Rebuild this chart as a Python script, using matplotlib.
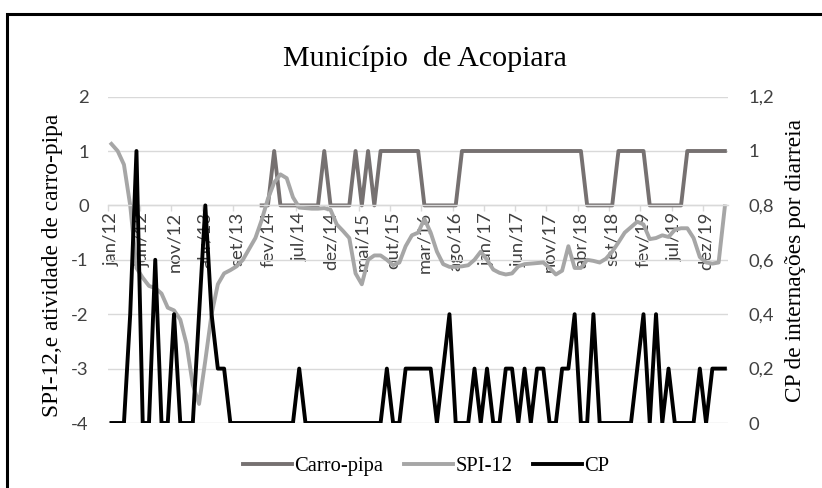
import matplotlib
matplotlib.use('Agg')
import matplotlib.pyplot as plt
from matplotlib.patches import Rectangle
import numpy as np

plt.rcParams['font.family'] = 'Lato'
plt.rcParams['axes.unicode_minus'] = False

# Categorias mensais (jan/12 ... mar/20)
meses = ['jan', 'fev', 'mar', 'abr', 'mai', 'jun', 'jul', 'ago', 'set', 'out', 'nov', 'dez']
categorias = [f'{m}/{a}' for a in range(12, 21) for m in meses][:99]

nan = np.nan

# Atividade de carro-pipa (0 = inativo, 1 = ativo), sem dados antes de jan/14
carro_pipa = [nan] * 24 + [
    0, 0, 1, 0, 0, 0, 0, 0, 0, 0,
    1, 0, 0, 0, 0, 1, 0, 1, 0,
    1, 1, 1, 1, 1, 1, 1,
    0, 0, 0, 0, 0, 0,
    1, 1, 1, 1, 1, 1, 1, 1, 1, 1, 1, 1, 1, 1, 1, 1, 1, 1, 1, 1,
    0, 0, 0, 0, 0,
    1, 1, 1, 1, 1,
    0, 0, 0, 0, 0, 0,
    1, 1, 1, 1, 1, 1, 1,
]

# SPI-12
spi12 = [
    1.13, 1.0, 0.75, 0.0, -1.15, -1.33, -1.48, -1.52, -1.62, -1.88,
    -1.93, -2.1, -2.55, -3.3, -3.65, -2.85, -2.0, -1.45, -1.25, -1.19,
    -1.12, -1.0, -0.8, -0.6, -0.27, 0.12, 0.42, 0.57, 0.5, 0.15,
    -0.04, -0.05, -0.06, -0.06, -0.05, -0.08, -0.35, -0.47, -0.6, -1.25,
    -1.45, -1.0, -0.92, -0.92, -1.0, -1.1, -1.05, -0.75, -0.55, -0.5,
    -0.25, -0.5, -0.85, -1.08, -1.13, -1.13, -1.12, -1.1, -1.0, -0.85,
    -1.0, -1.18, -1.24, -1.27, -1.25, -1.12, -1.08, -1.07, -1.06, -1.05,
    -1.15, -1.27, -1.2, -0.75, -1.15, -1.15, -1.0, -1.02, -1.05, -0.98,
    -0.85, -0.68, -0.5, -0.4, -0.3, -0.35, -0.62, -0.6, -0.55, -0.58,
    -0.45, -0.42, -0.42, -0.6, -0.95, -1.05, -1.07, -1.05, -0.02,
]

# CP de internações por diarreia
cp = [
    0, 0, 0, 0.4, 1.0, 0, 0, 0.6, 0, 0,
    0.4, 0, 0, 0, 0.4, 0.8, 0.4, 0.2, 0.2, 0,
    0, 0, 0, 0, 0, 0, 0, 0, 0, 0,
    0.2, 0, 0, 0, 0, 0, 0, 0, 0, 0,
    0, 0, 0, 0, 0.2, 0, 0, 0.2, 0.2, 0.2,
    0.2, 0.2, 0, 0.2, 0.4, 0, 0, 0, 0.2, 0,
    0.2, 0, 0, 0.2, 0.2, 0, 0.2, 0, 0.2, 0.2,
    0, 0, 0.2, 0.2, 0.4, 0, 0, 0.4, 0, 0,
    0, 0, 0, 0, 0.2, 0.4, 0, 0.4, 0, 0.2,
    0, 0, 0, 0, 0.2, 0, 0.2, 0.2, 0.2,
]

esq_ticks = [-4, -3, -2, -1, 0, 1, 2]
esq_labels = ['-4', '-3', '-2', '-1', '0', '1', '2']
dir_ticks = [0, 0.2, 0.4, 0.6, 0.8, 1.0, 1.2]
dir_labels = ['0', '0,2', '0,4', '0,6', '0,8', '1', '1,2']

W, H = 822, 488
fig = plt.figure(figsize=(W / 100, H / 100), dpi=100)
ax = fig.add_axes([108.3 / W, 1 - 423 / H, 619.7 / W, (423 - 96.6) / H])

x = np.arange(len(categorias))
lw = 2.8
l1, = ax.plot(x, carro_pipa, color='#767171', lw=lw, solid_joinstyle='round', label='Carro-pipa')
l2, = ax.plot(x, spi12, color='#A6A6A6', lw=lw, solid_joinstyle='round', label='SPI-12')
ax.set_xlim(-0.5, len(categorias) - 0.5)
ax.set_ylim(-4, 2)

# eixo esquerdo
ax.set_yticks(esq_ticks)
ax.set_yticklabels(esq_labels)
ax.tick_params(axis='y', length=0, pad=14, labelsize=13.3, labelcolor='#404040')
ax.yaxis.grid(True, color='#D9D9D9', lw=1)
ax.set_axisbelow(True)
for s in ['top', 'left', 'right']:
    ax.spines[s].set_visible(False)

# eixo horizontal cruzando em 0
ax.spines['bottom'].set_position(('data', 0))
ax.spines['bottom'].set_color('#D9D9D9')
ax.spines['bottom'].set_linewidth(1)
ax.set_xticks(x[::5])
ax.set_xticklabels(categorias[::5], rotation=90)
ax.set_xticks(np.arange(-0.5, len(categorias), 5), minor=True)
ax.tick_params(axis='x', which='major', length=0, pad=4.5, labelsize=13.3, labelcolor='#404040')
ax.tick_params(axis='x', which='minor', length=4.5, color='#D9D9D9', width=1)

# eixo secundário
ax2 = ax.twinx()
l3, = ax2.plot(x, cp, color='black', lw=lw, solid_joinstyle='round', label='CP')
ax2.set_ylim(0, 1.2)
ax2.set_yticks(dir_ticks)
ax2.set_yticklabels(dir_labels)
ax2.tick_params(axis='y', length=0, pad=15, labelsize=13.3, labelcolor='#404040')
for s in ax2.spines.values():
    s.set_visible(False)

# textos
serif = 'Liberation Serif'
fig.text(425 / W, 1 - 66 / H, 'Município  de Acopiara', ha='center', va='baseline',
         family=serif, size=21.6)
fig.text(52 / W, 1 - 265 / H, 'SPI-12,e atividade de carro-pipa', rotation=90,
         ha='center', va='center', family=serif, size=16.8)
fig.text(795 / W, 1 - 260 / H, 'CP de internações por diarreia', rotation=90,
         ha='center', va='center', family=serif, size=16.8)

fig.legend([l1, l2, l3], ['Carro-pipa', 'SPI-12', 'CP'], loc='center',
           bbox_to_anchor=(426 / W, 1 - 466.7 / H), ncol=3, frameon=False,
           prop={'family': serif, 'size': 14.8}, handlelength=2.4,
           handletextpad=0.1, columnspacing=1.0)

# borda do gráfico
fig.add_artist(Rectangle((6.5 / W, -0.1), 1.2, (1 - 14.5 / H) + 0.1,
                         transform=fig.transFigure, fill=False, lw=2.2, ec='black'))

fig.savefig('out.png', dpi=100)
